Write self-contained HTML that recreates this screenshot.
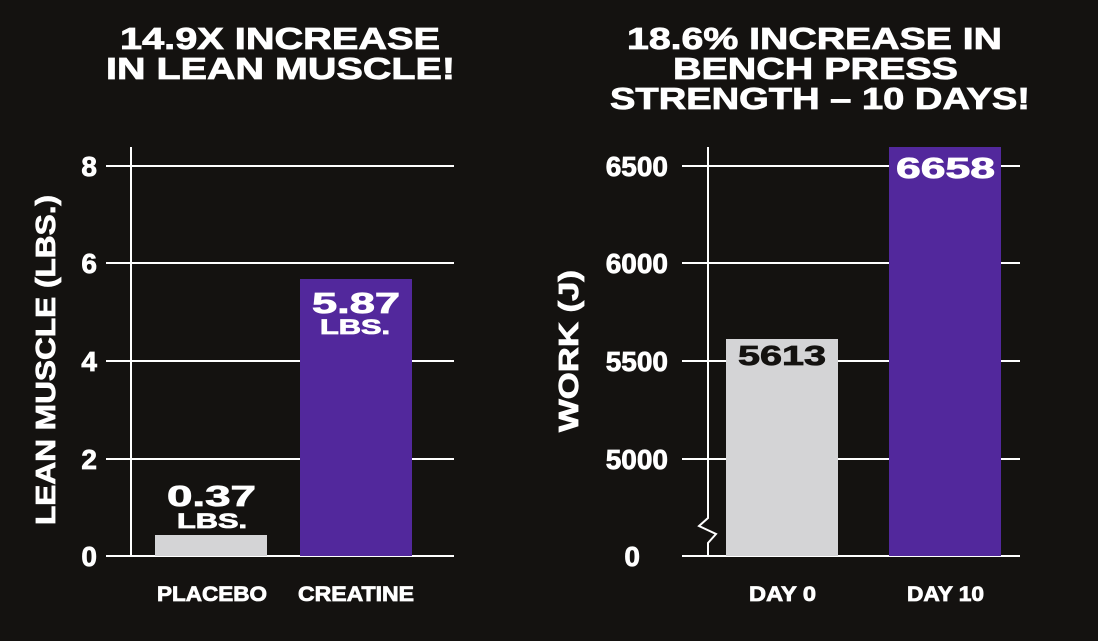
<!DOCTYPE html>
<html><head><meta charset="utf-8"><style>
html,body{margin:0;padding:0;background:#141210;}
svg{display:block;}
text{font-family:"Liberation Sans",sans-serif;font-weight:bold;fill:#fff;stroke:#fff;stroke-width:0.8;}
</style></head><body>
<svg width="1098" height="641" viewBox="0 0 1098 641" xmlns="http://www.w3.org/2000/svg">
<rect width="1098" height="641" fill="#141210"/>
<g font-size="31">
<text x="120" y="49" textLength="320" lengthAdjust="spacingAndGlyphs">14.9X INCREASE</text>
<text x="106" y="79" textLength="349" lengthAdjust="spacingAndGlyphs">IN LEAN MUSCLE!</text>
<text x="627" y="49" textLength="375" lengthAdjust="spacingAndGlyphs">18.6% INCREASE IN</text>
<text x="673" y="79" textLength="285" lengthAdjust="spacingAndGlyphs">BENCH PRESS</text>
<text x="610" y="109" textLength="420" lengthAdjust="spacingAndGlyphs">STRENGTH – 10 DAYS!</text>
</g>
<g stroke="#fff" stroke-width="2">
<line x1="106" y1="166" x2="454" y2="166"/>
<line x1="106" y1="263" x2="454" y2="263"/>
<line x1="106" y1="361" x2="454" y2="361"/>
<line x1="106" y1="459" x2="454" y2="459"/>
<line x1="106" y1="556" x2="454" y2="556"/>
<line x1="131" y1="147" x2="131" y2="556"/>
</g>
<rect x="155" y="535" width="112" height="21" fill="#d4d4d6"/>
<rect x="300" y="279" width="112" height="277" fill="#52289c"/>
<g font-size="28" text-anchor="end">
<text x="97" y="176">8</text><text x="97" y="273">6</text><text x="97" y="371">4</text><text x="97" y="469">2</text><text x="97" y="566">0</text>
</g>
<text transform="translate(55,360) rotate(-90)" font-size="28" text-anchor="middle" textLength="330" lengthAdjust="spacingAndGlyphs">LEAN MUSCLE (LBS.)</text>
<text x="312" y="313" font-size="29" textLength="88" lengthAdjust="spacingAndGlyphs">5.87</text>
<text x="320" y="334" font-size="21" textLength="70" lengthAdjust="spacingAndGlyphs">LBS.</text>
<text x="167" y="506" font-size="29" textLength="89" lengthAdjust="spacingAndGlyphs">0.37</text>
<text x="177" y="528" font-size="21" textLength="70" lengthAdjust="spacingAndGlyphs">LBS.</text>
<text x="157" y="601" font-size="21" textLength="110" lengthAdjust="spacingAndGlyphs">PLACEBO</text>
<text x="298" y="601" font-size="21" textLength="116" lengthAdjust="spacingAndGlyphs">CREATINE</text>
<g stroke="#fff" stroke-width="2">
<line x1="682" y1="166" x2="1020" y2="166"/>
<line x1="682" y1="263" x2="1020" y2="263"/>
<line x1="682" y1="361" x2="1020" y2="361"/>
<line x1="682" y1="459" x2="1020" y2="459"/>
<line x1="682" y1="556" x2="1020" y2="556"/>
</g>
<polyline points="708,147 708,518 699,526 716,534 708,543 708,556" fill="none" stroke="#fff" stroke-width="2"/>
<rect x="726" y="339" width="112" height="217" fill="#d4d4d6"/>
<rect x="889" y="147" width="112" height="409" fill="#52289c"/>
<g font-size="28" text-anchor="end">
<text x="668" y="176">6500</text><text x="668" y="273">6000</text><text x="668" y="371">5500</text><text x="668" y="469">5000</text><text x="640" y="566">0</text>
</g>
<text transform="translate(578,351) rotate(-90)" font-size="28" text-anchor="middle" textLength="162" lengthAdjust="spacingAndGlyphs">WORK (J)</text>
<text x="896" y="178" font-size="29" textLength="99" lengthAdjust="spacingAndGlyphs">6658</text>
<text x="738" y="365" font-size="28" textLength="88" lengthAdjust="spacingAndGlyphs" style="fill:#141210;stroke:#141210">5613</text>
<text x="749" y="601" font-size="21" textLength="67" lengthAdjust="spacingAndGlyphs">DAY 0</text>
<text x="907" y="601" font-size="21" textLength="77" lengthAdjust="spacingAndGlyphs">DAY 10</text>
</svg>
</body></html>
